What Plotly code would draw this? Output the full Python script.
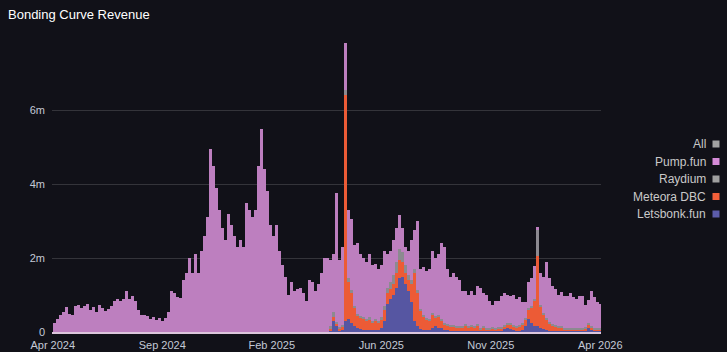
import plotly.graph_objects as go
import pandas as pd

# ---------------- data (values in millions, 4-day buckets) ----------------
start_date = "2024-04-15"
bucket_days = 4
launch_bucket = 92  # first bucket where the non-Pump.fun launchpads appear

pump_fun = [
    0.25, 0.35, 0.45, 0.53, 0.68, 0.5, 0.45, 0.7, 0.72, 0.65,
    0.7, 0.76, 0.6, 0.68, 0.55, 0.72, 0.66, 0.58, 0.62, 0.7,
    0.85, 0.88, 0.85, 0.9, 1.1, 0.9, 0.97, 0.85, 0.6, 0.45,
    0.45, 0.42, 0.36, 0.4, 0.32, 0.38, 0.3, 0.38, 0.55, 1.1,
    1.05, 0.95, 0.93, 1.4, 1.6, 2.0, 1.6, 2.1, 1.6, 2.2,
    2.6, 3.1, 4.95, 4.5, 3.9, 3.3, 2.8, 2.5, 3.2, 2.9,
    2.6, 2.3, 2.5, 2.3, 3.5, 3.3, 3.1, 3.3, 4.5, 5.5,
    4.4, 3.8, 2.9, 2.6, 2.9, 2.2, 1.8, 1.5, 1.0, 1.35,
    1.1, 1.15, 1.2, 1.05, 0.85, 1.4, 1.35, 1.1, 1.3, 1.6,
    2.0, 2.0,
    1.80, 1.55, 3.48, 1.82, 2.10, 1.25, 1.85, 1.92, 1.65, 1.90,
    1.67, 1.59, 1.55, 1.70, 1.50, 1.50, 1.39, 1.40, 1.50, 0.90,
    0.85, 0.95, 0.90, 0.90, 0.65, 0.50, 0.65, 1.10, 1.05, 1.87,
    1.08, 1.30, 1.26, 1.36, 1.69, 1.56, 1.64, 2.06, 2.05, 1.49,
    1.32, 1.42, 1.35, 1.25, 0.93, 0.88, 0.83, 0.91, 0.85, 1.03,
    1.08, 0.90, 0.88, 0.73, 0.59, 0.73, 0.72, 0.83, 0.85, 0.76,
    0.74, 0.80, 0.74, 0.77, 0.55, 0.43, 0.71, 0.76, 0.89, 0.10,
    0.86, 0.98, 1.51, 1.17, 1.03, 0.96, 0.83, 0.93, 0.85, 0.84,
    0.93, 0.83, 0.78, 0.84, 0.86, 0.58, 0.63, 0.93, 0.83, 0.68,
    0.63,
]

letsbonk_fun = [
    0.05, 0.3, 0.15, 0.05, 0.05, 0.3, 0.35, 0.25, 0.15, 0.1,
    0.08, 0.06, 0.05, 0.05, 0.05, 0.05, 0.06, 0.1, 0.3, 0.75,
    0.9, 1.0, 1.2, 1.45, 1.5, 1.3, 1.1, 0.8, 0.3, 0.15,
    0.08, 0.06, 0.05, 0.05, 0.12, 0.15, 0.12, 0.1, 0.06, 0.05,
    0.04, 0.04, 0.03, 0.03, 0.03, 0.03, 0.03, 0.03, 0.03, 0.03,
    0.03, 0.03, 0.03, 0.03, 0.03, 0.03, 0.03, 0.04, 0.08, 0.1,
    0.08, 0.06, 0.04, 0.04, 0.06, 0.15, 0.35, 0.25, 0.15, 0.15,
    0.1, 0.08, 0.05, 0.04, 0.03, 0.03, 0.03, 0.03, 0.03, 0.03,
    0.03, 0.03, 0.03, 0.03, 0.03, 0.05, 0.1, 0.05, 0.03, 0.03,
    0.03,
]

meteora_dbc = [
    0.05, 0.1, 0.08, 0.05, 0.1, 6.1, 1.0, 0.8, 0.5, 0.35,
    0.3, 0.3, 0.25, 0.3, 0.2, 0.25, 0.2, 0.25, 0.3, 0.3,
    0.25, 0.3, 0.4, 0.5, 0.4, 0.3, 0.3, 0.5, 1.3, 0.9,
    0.5, 0.35, 0.3, 0.25, 0.35, 0.25, 0.3, 0.2, 0.15, 0.12,
    0.1, 0.1, 0.08, 0.08, 0.1, 0.15, 0.1, 0.12, 0.08, 0.15,
    0.05, 0.08, 0.05, 0.05, 0.06, 0.05, 0.06, 0.06, 0.08, 0.1,
    0.12, 0.1, 0.08, 0.1, 0.15, 0.2, 0.25, 0.4, 0.7, 1.9,
    0.6, 0.4, 0.3, 0.2, 0.15, 0.12, 0.1, 0.08, 0.05, 0.05,
    0.05, 0.05, 0.05, 0.05, 0.05, 0.05, 0.1, 0.08, 0.05, 0.05,
    0.05,
]

raydium = [
    0.05, 0.15, 0.05, 0.03, 0.05, 0.15, 0.1, 0.08, 0.05, 0.05,
    0.05, 0.05, 0.05, 0.05, 0.05, 0.05, 0.05, 0.05, 0.1, 0.15,
    0.2, 0.25, 0.3, 0.3, 0.25, 0.2, 0.15, 0.1, 0.1, 0.08,
    0.04, 0.04, 0.04, 0.04, 0.04, 0.04, 0.04, 0.04, 0.04, 0.04,
    0.04, 0.04, 0.04, 0.04, 0.04, 0.04, 0.04, 0.04, 0.04, 0.04,
    0.04, 0.04, 0.04, 0.04, 0.04, 0.04, 0.04, 0.04, 0.04, 0.04,
    0.04, 0.04, 0.04, 0.04, 0.04, 0.04, 0.04, 0.04, 0.04, 0.7,
    0.04, 0.04, 0.04, 0.04, 0.04, 0.04, 0.04, 0.04, 0.04, 0.04,
    0.04, 0.04, 0.04, 0.04, 0.04, 0.04, 0.04, 0.04, 0.04, 0.04,
    0.04,
]

y_tick_vals = [0, 2, 4, 6]
y_tick_text = ["0", "2m", "4m", "6m"]
x_tick_text = ["Apr 2024", "Sep 2024", "Feb 2025", "Jun 2025", "Nov 2025", "Apr 2026"]

legend_names = ["All", "Pump.fun", "Raydium", "Meteora DBC", "Letsbonk.fun"]
legend_colors = ["#a3a3a3", "#d68bd8", "#a0a0a0", "#f4603a", "#5c5cab"]

# ---------------- build ----------------
n = len(pump_fun)
pad = [0.0] * launch_bucket
dates = pd.date_range(start_date, periods=n, freq=f"{bucket_days}D") + pd.Timedelta(days=bucket_days / 2)

W, H = 727, 352
L, R, T, B = 52, 126, 36, 20
BG = "#111118"
FONT = "Liberation Sans, Arial, sans-serif"

fig = go.Figure()
series = [
    ("Letsbonk.fun", pad + letsbonk_fun, "#5656a2"),
    ("Meteora DBC", pad + meteora_dbc, "#ec5b36"),
    ("Raydium", pad + raydium, "#8c8a90"),
    ("Pump.fun", pump_fun, "#bd7fbf"),
]
for name, vals, col in series:
    fig.add_trace(go.Bar(x=dates, y=vals, name=name, marker=dict(color=col, line=dict(width=0)),
                         hoverinfo="skip", showlegend=False))

x0 = pd.Timestamp(start_date) - pd.Timedelta(days=1)
x1 = x0 + pd.Timedelta(days=732)
tick_dates = [pd.Timestamp(start_date) + pd.Timedelta(days=146 * k) for k in range(len(x_tick_text))]

fig.update_layout(
    width=W, height=H,
    margin=dict(l=L, r=R, t=T, b=B, pad=0),
    paper_bgcolor=BG, plot_bgcolor=BG,
    barmode="stack", bargap=0.12,
    font=dict(family=FONT, color="#c3c9d6", size=11),
    showlegend=False,
    xaxis=dict(range=[x0, x1], tickvals=tick_dates, ticktext=x_tick_text, showgrid=False,
               showline=True, linecolor="#dcc6dc", linewidth=1.5, ticks="", zeroline=False,
               tickfont=dict(size=11, color="#c3c9d6"), automargin=False, ticklabelstandoff=2),
    yaxis=dict(range=[0, 8], tickvals=y_tick_vals, ticktext=y_tick_text, showgrid=True,
               gridcolor="#34343a", gridwidth=1, zeroline=False, ticks="",
               tickfont=dict(size=11, color="#c3c9d6"), automargin=False, ticklabelstandoff=6),
)

fig.add_annotation(text="Bonding Curve Revenue", xref="paper", yref="paper",
                   x=-(L - 6) / (W - L - R), y=1 + (T - 15) / (H - T - B),
                   xanchor="left", yanchor="middle", showarrow=False,
                   font=dict(family=FONT, size=13, color="#ffffff"))

pw = W - L - R
ph = H - T - B
row_y = [144, 161.5, 179, 196.5, 214]
for name, col, yy in zip(legend_names, legend_colors, row_y):
    fig.add_annotation(text=name, xref="paper", yref="paper",
                       x=(707.5 - L) / pw, y=1 - (yy - T) / ph,
                       xanchor="right", yanchor="middle", showarrow=False,
                       font=dict(family=FONT, size=12, color="#c9c9c9"))
    fig.add_shape(type="rect", xref="paper", yref="paper",
                  x0=(712.5 - L) / pw, x1=(719.5 - L) / pw,
                  y0=1 - (yy - 3.5 - T) / ph, y1=1 - (yy + 3.5 - T) / ph,
                  fillcolor=col, line=dict(width=0))

fig.write_html("out.html")
